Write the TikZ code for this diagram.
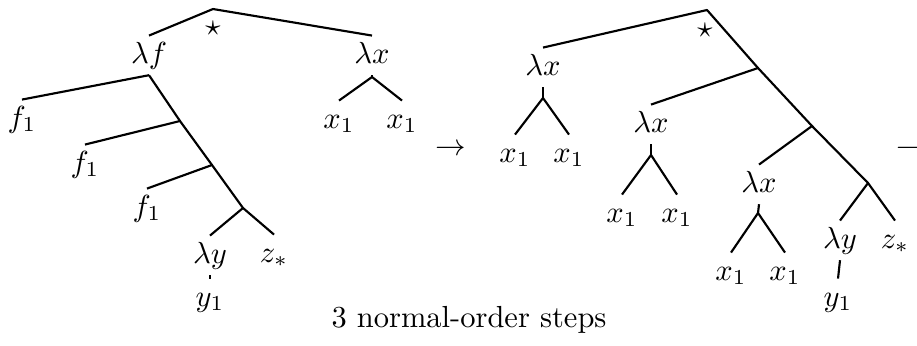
\documentclass[tikz,border=0pt]{standalone}
\begin{document}
\begin{tikzpicture}[x=0.328pt,y=-0.328pt,
  lab/.style={anchor=base,inner sep=0pt,outer sep=2pt,text height=7pt,text depth=2pt},
  starlab/.style={inner sep=0pt},
  edge/.style={line width=0.7pt,line join=round}]
\clip (0,0) rectangle (917,345);

% ---------- term before reduction ----------
\coordinate (L0) at (213,9);
\node[starlab] (Lstar) at (213,28) {$\star$};
\node[lab] (Lf) at (149,63) {$\lambda f$};
\node[lab] (Lx) at (372,63) {$\lambda x$};
\node[lab] (LfA) at (22,127) {$f_1$};
\node[lab] (LfB) at (85,172) {$f_1$};
\node[lab] (LfC) at (147,216) {$f_1$};
\node[lab] (Ly) at (210,263) {$\lambda y$};
\node[lab] (Lz) at (274,262) {$z_*$};
\node[lab] (Ly1) at (210,306) {$y_1$};
\node[lab] (Lx1a) at (339,128) {$x_1$};
\node[lab] (Lx1b) at (402,128) {$x_1$};
\coordinate (Lj1) at (180,121);
\coordinate (Lj2) at (212,165);
\coordinate (Lj3) at (243,208);
\coordinate (Lxj) at (372,77);

\draw[edge] (Lf.north) -- (L0) -- (Lx.north);
\draw[edge] (Lf.south) -- (LfA.north);
\draw[edge] (Lf.south) -- (Lj1) -- (Lj2) -- (Lj3) -- (Lz.north);
\draw[edge] (Lj1) -- (LfB.north);
\draw[edge] (Lj2) -- (LfC.north);
\draw[edge] (Lj3) -- (Ly.north);
\draw[edge] (Ly.south) -- (Ly1.north);
\draw[edge] (Lx.south) -- (Lxj);
\draw[edge] (Lxj) -- (Lx1a.north);
\draw[edge] (Lxj) -- (Lx1b.north);

% ---------- reduction arrows (the second one runs off the right edge) ----------
\node[anchor=base] (arr) at (451,155) {$\to$};
\node[anchor=base west,inner sep=0pt] (arr2) at (896,155) {$\to$};
\node[anchor=base] (caption) at (469,327) {3 normal-order steps};

% ---------- term after reduction ----------
\coordinate (R0) at (707,10);
\node[starlab] (Rstar) at (705,30) {$\star$};
\node[lab] (Rx1) at (543,75) {$\lambda x$};
\node[lab] (Rx1a) at (515,162) {$x_1$};
\node[lab] (Rx1b) at (569,162) {$x_1$};
\node[lab] (Rx2) at (651,132) {$\lambda x$};
\node[lab] (Rx2a) at (622,222) {$x_1$};
\node[lab] (Rx2b) at (677,222) {$x_1$};
\node[lab] (Rx3) at (759,192) {$\lambda x$};
\node[lab] (Rx3a) at (731,280) {$x_1$};
\node[lab] (Rx3b) at (785,280) {$x_1$};
\node[lab] (Ry) at (840,248) {$\lambda y$};
\node[lab] (Rz) at (895,248) {$z_*$};
\node[lab] (Ry1) at (838,306) {$y_1$};
\coordinate (Rj1) at (758,68);
\coordinate (Rj2) at (812,126);
\coordinate (Rj3) at (868,183);
\coordinate (Rx1j) at (543,98);
\coordinate (Rx2j) at (651,155);
\coordinate (Rx3j) at (758,213);

\draw[edge] (Rx1.north) -- (R0) -- (Rj1) -- (Rj2) -- (Rj3) -- (Rz.north);
\draw[edge] (Rj1) -- (Rx2.north);
\draw[edge] (Rj2) -- (Rx3.north);
\draw[edge] (Rj3) -- (Ry.north);
\draw[edge] (Ry.south) -- (Ry1.north);
\draw[edge] (Rx1.south) -- (Rx1j);
\draw[edge] (Rx1j) -- (Rx1a.north);
\draw[edge] (Rx1j) -- (Rx1b.north);
\draw[edge] (Rx2.south) -- (Rx2j);
\draw[edge] (Rx2j) -- (Rx2a.north);
\draw[edge] (Rx2j) -- (Rx2b.north);
\draw[edge] (Rx3.south) -- (Rx3j);
\draw[edge] (Rx3j) -- (Rx3a.north);
\draw[edge] (Rx3j) -- (Rx3b.north);
\end{tikzpicture}
\end{document}
